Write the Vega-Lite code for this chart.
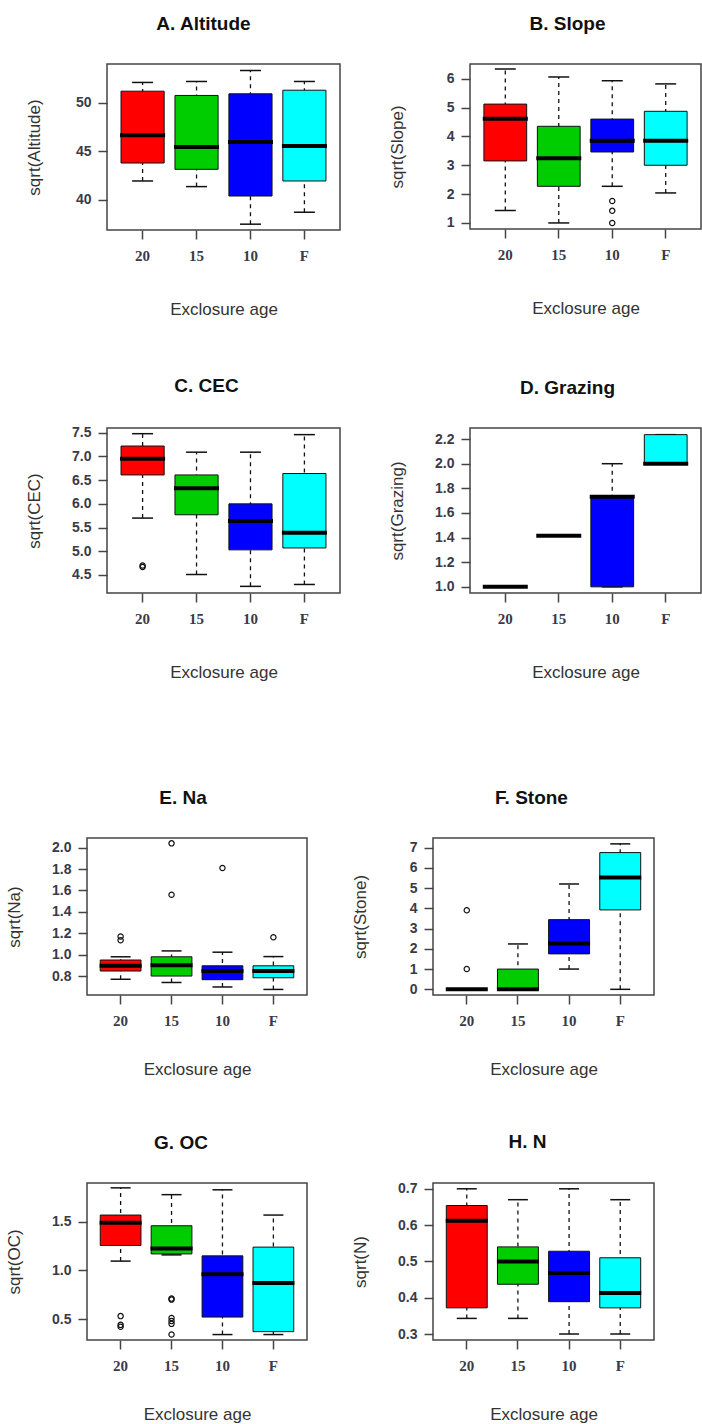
{
  "$schema": "https://vega.github.io/schema/vega-lite/v6.json",
  "padding": {"left": 4, "top": 14, "right": 0, "bottom": 0},
  "background": "white",
  "datasets": {
    "boxes": [
      {"panel": "A", "group": "20", "lower": 41.95, "q1": 43.8, "median": 46.65, "q3": 51.2, "upper": 52.1},
      {"panel": "A", "group": "15", "lower": 41.37, "q1": 43.15, "median": 45.45, "q3": 50.76, "upper": 52.2},
      {"panel": "A", "group": "10", "lower": 37.5, "q1": 40.4, "median": 45.96, "q3": 50.93, "upper": 53.33},
      {"panel": "A", "group": "F", "lower": 38.73, "q1": 41.95, "median": 45.55, "q3": 51.3, "upper": 52.2},
      {"panel": "B", "group": "20", "lower": 1.43, "q1": 3.15, "median": 4.61, "q3": 5.12, "upper": 6.34},
      {"panel": "B", "group": "15", "lower": 1.0, "q1": 2.27, "median": 3.24, "q3": 4.35, "upper": 6.06},
      {"panel": "B", "group": "10", "lower": 2.27, "q1": 3.46, "median": 3.85, "q3": 4.6, "upper": 5.93},
      {"panel": "B", "group": "F", "lower": 2.04, "q1": 3.0, "median": 3.85, "q3": 4.87, "upper": 5.82},
      {"panel": "C", "group": "20", "lower": 5.7, "q1": 6.61, "median": 6.95, "q3": 7.22, "upper": 7.48},
      {"panel": "C", "group": "15", "lower": 4.51, "q1": 5.77, "median": 6.33, "q3": 6.61, "upper": 7.09},
      {"panel": "C", "group": "10", "lower": 4.26, "q1": 5.03, "median": 5.64, "q3": 6.0, "upper": 7.09},
      {"panel": "C", "group": "F", "lower": 4.3, "q1": 5.07, "median": 5.39, "q3": 6.64, "upper": 7.46},
      {"panel": "D", "group": "20", "lower": 1.0, "q1": 1.0, "median": 1.0, "q3": 1.0, "upper": 1.0},
      {"panel": "D", "group": "15", "lower": 1.414, "q1": 1.414, "median": 1.414, "q3": 1.414, "upper": 1.414},
      {"panel": "D", "group": "10", "lower": 1.0, "q1": 1.0, "median": 1.732, "q3": 1.732, "upper": 2.0},
      {"panel": "D", "group": "F", "lower": 2.0, "q1": 2.0, "median": 2.0, "q3": 2.236, "upper": 2.236},
      {"panel": "E", "group": "20", "lower": 0.77, "q1": 0.847, "median": 0.896, "q3": 0.95, "upper": 0.98},
      {"panel": "E", "group": "15", "lower": 0.74, "q1": 0.8, "median": 0.9, "q3": 0.98, "upper": 1.035},
      {"panel": "E", "group": "10", "lower": 0.698, "q1": 0.766, "median": 0.847, "q3": 0.896, "upper": 1.023},
      {"panel": "E", "group": "F", "lower": 0.675, "q1": 0.784, "median": 0.847, "q3": 0.896, "upper": 0.982},
      {"panel": "F", "group": "20", "lower": 0.0, "q1": 0.0, "median": 0.0, "q3": 0.0, "upper": 0.0},
      {"panel": "F", "group": "15", "lower": 0.0, "q1": 0.0, "median": 0.0, "q3": 1.0, "upper": 2.24},
      {"panel": "F", "group": "10", "lower": 1.0, "q1": 1.75, "median": 2.26, "q3": 3.44, "upper": 5.2},
      {"panel": "F", "group": "F", "lower": 0.0, "q1": 3.92, "median": 5.52, "q3": 6.75, "upper": 7.18},
      {"panel": "G", "group": "20", "lower": 1.096, "q1": 1.257, "median": 1.49, "q3": 1.57, "upper": 1.85},
      {"panel": "G", "group": "15", "lower": 1.16, "q1": 1.17, "median": 1.226, "q3": 1.46, "upper": 1.78},
      {"panel": "G", "group": "10", "lower": 0.34, "q1": 0.52, "median": 0.96, "q3": 1.15, "upper": 1.83},
      {"panel": "G", "group": "F", "lower": 0.34, "q1": 0.37, "median": 0.87, "q3": 1.24, "upper": 1.57},
      {"panel": "H", "group": "20", "lower": 0.343, "q1": 0.372, "median": 0.612, "q3": 0.654, "upper": 0.7},
      {"panel": "H", "group": "15", "lower": 0.343, "q1": 0.437, "median": 0.5, "q3": 0.54, "upper": 0.67},
      {"panel": "H", "group": "10", "lower": 0.3, "q1": 0.389, "median": 0.468, "q3": 0.528, "upper": 0.7},
      {"panel": "H", "group": "F", "lower": 0.3, "q1": 0.372, "median": 0.413, "q3": 0.51, "upper": 0.67}
    ],
    "outliers": [
      {"panel": "B", "group": "10", "value": 1.76},
      {"panel": "B", "group": "10", "value": 1.42},
      {"panel": "B", "group": "10", "value": 1.0},
      {"panel": "C", "group": "20", "value": 4.67},
      {"panel": "C", "group": "20", "value": 4.7},
      {"panel": "E", "group": "20", "value": 1.135},
      {"panel": "E", "group": "20", "value": 1.17},
      {"panel": "E", "group": "15", "value": 2.04},
      {"panel": "E", "group": "15", "value": 1.56},
      {"panel": "E", "group": "10", "value": 1.81},
      {"panel": "E", "group": "F", "value": 1.163},
      {"panel": "F", "group": "20", "value": 3.9},
      {"panel": "F", "group": "20", "value": 1.0},
      {"panel": "G", "group": "20", "value": 0.53},
      {"panel": "G", "group": "20", "value": 0.44},
      {"panel": "G", "group": "20", "value": 0.42},
      {"panel": "G", "group": "15", "value": 0.71},
      {"panel": "G", "group": "15", "value": 0.7},
      {"panel": "G", "group": "15", "value": 0.51},
      {"panel": "G", "group": "15", "value": 0.48},
      {"panel": "G", "group": "15", "value": 0.45},
      {"panel": "G", "group": "15", "value": 0.34}
    ]
  },
  "bounds": "flush",
  "spacing": 774,
  "vconcat": [
    {
      "bounds": "flush",
      "spacing": 0,
      "hconcat": [
        {"width": 20, "height": 10, "data": {"values": []}, "mark": "point", "view": {"stroke": null}},
        {
          "bounds": "flush",
          "spacing": 364,
          "vconcat": [
            {
              "bounds": "flush",
              "spacing": 130,
              "hconcat": [
                {
                  "width": 233, "height": 166,
                  "title": {"text": "A. Altitude", "dx": -20},
                  "data": {"name": "boxes"},
                  "transform": [{"filter": "datum.panel === 'A'"}],
                  "encoding": {"x": {"field": "group", "type": "nominal", "sort": ["20", "15", "10", "F"], "scale": {"paddingInner": 0.2, "paddingOuter": 0.26}, "title": "Exclosure age"}},
                  "layer": [
                    {"mark": {"type": "rule", "strokeDash": [4, 4], "color": "#111", "strokeWidth": 1.3},
                     "encoding": {"y": {"field": "lower", "type": "quantitative", "title": "sqrt(Altitude)", "scale": {"domain": [36.9, 54.0], "nice": false, "zero": false}, "axis": {"values": [40, 45, 50], "format": "d", "tickCount": 20, "labelOverlap": false}}, "y2": {"field": "upper"}}},
                    {"mark": {"type": "tick", "size": 21, "thickness": 1.5, "color": "#111", "opacity": 1}, "encoding": {"y": {"field": "lower", "type": "quantitative", "title": "sqrt(Altitude)"}}},
                    {"mark": {"type": "tick", "size": 21, "thickness": 1.5, "color": "#111", "opacity": 1}, "encoding": {"y": {"field": "upper", "type": "quantitative", "title": "sqrt(Altitude)"}}},
                    {"mark": {"type": "bar", "stroke": "#111", "strokeWidth": 1, "opacity": 1}, "encoding": {"y": {"field": "q1", "type": "quantitative", "title": "sqrt(Altitude)"}, "y2": {"field": "q3"}, "color": {"field": "group", "type": "nominal", "scale": {"domain": ["20", "15", "10", "F"], "range": ["#FF0000", "#00CD00", "#0000FF", "#00FFFF"]}, "legend": null}}},
                    {"mark": {"type": "tick", "size": 45, "thickness": 4, "color": "#000", "opacity": 1}, "encoding": {"y": {"field": "median", "type": "quantitative", "title": "sqrt(Altitude)"}}}
                  ]
                },
                {
                  "width": 231, "height": 165,
                  "title": {"text": "B. Slope", "dx": -18},
                  "encoding": {"x": {"field": "group", "type": "nominal", "sort": ["20", "15", "10", "F"], "scale": {"paddingInner": 0.2, "paddingOuter": 0.26}, "title": "Exclosure age"}},
                  "layer": [
                    {"data": {"name": "boxes"}, "transform": [{"filter": "datum.panel === 'B'"}],
                     "layer": [
                      {"mark": {"type": "rule", "strokeDash": [4, 4], "color": "#111", "strokeWidth": 1.3},
                       "encoding": {"y": {"field": "lower", "type": "quantitative", "title": "sqrt(Slope)", "scale": {"domain": [0.79, 6.51], "nice": false, "zero": false}, "axis": {"values": [1, 2, 3, 4, 5, 6], "format": "d", "tickCount": 20, "labelOverlap": false}}, "y2": {"field": "upper"}}},
                      {"mark": {"type": "tick", "size": 21, "thickness": 1.5, "color": "#111", "opacity": 1}, "encoding": {"y": {"field": "lower", "type": "quantitative", "title": "sqrt(Slope)"}}},
                      {"mark": {"type": "tick", "size": 21, "thickness": 1.5, "color": "#111", "opacity": 1}, "encoding": {"y": {"field": "upper", "type": "quantitative", "title": "sqrt(Slope)"}}},
                      {"mark": {"type": "bar", "stroke": "#111", "strokeWidth": 1, "opacity": 1}, "encoding": {"y": {"field": "q1", "type": "quantitative", "title": "sqrt(Slope)"}, "y2": {"field": "q3"}, "color": {"field": "group", "type": "nominal", "scale": {"domain": ["20", "15", "10", "F"], "range": ["#FF0000", "#00CD00", "#0000FF", "#00FFFF"]}, "legend": null}}},
                      {"mark": {"type": "tick", "size": 45, "thickness": 4, "color": "#000", "opacity": 1}, "encoding": {"y": {"field": "median", "type": "quantitative", "title": "sqrt(Slope)"}}}
                     ]},
                    {"data": {"name": "outliers"}, "transform": [{"filter": "datum.panel === 'B'"}],
                     "mark": {"type": "point", "shape": "circle", "filled": false, "size": 28, "stroke": "#111", "strokeWidth": 1.2, "opacity": 1},
                     "encoding": {"y": {"field": "value", "type": "quantitative", "title": "sqrt(Slope)"}}}
                  ]
                }
              ]
            },
            {
              "bounds": "flush",
              "spacing": 130,
              "hconcat": [
                {
                  "width": 233, "height": 165,
                  "title": {"text": "C. CEC", "dx": -17},
                  "encoding": {"x": {"field": "group", "type": "nominal", "sort": ["20", "15", "10", "F"], "scale": {"paddingInner": 0.2, "paddingOuter": 0.26}, "title": "Exclosure age"}},
                  "layer": [
                    {"data": {"name": "boxes"}, "transform": [{"filter": "datum.panel === 'C'"}],
                     "layer": [
                      {"mark": {"type": "rule", "strokeDash": [4, 4], "color": "#111", "strokeWidth": 1.3},
                       "encoding": {"y": {"field": "lower", "type": "quantitative", "title": "sqrt(CEC)", "scale": {"domain": [4.12, 7.6], "nice": false, "zero": false}, "axis": {"values": [4.5, 5.0, 5.5, 6.0, 6.5, 7.0, 7.5], "format": ".1f", "tickCount": 20, "labelOverlap": false}}, "y2": {"field": "upper"}}},
                      {"mark": {"type": "tick", "size": 21, "thickness": 1.5, "color": "#111", "opacity": 1}, "encoding": {"y": {"field": "lower", "type": "quantitative", "title": "sqrt(CEC)"}}},
                      {"mark": {"type": "tick", "size": 21, "thickness": 1.5, "color": "#111", "opacity": 1}, "encoding": {"y": {"field": "upper", "type": "quantitative", "title": "sqrt(CEC)"}}},
                      {"mark": {"type": "bar", "stroke": "#111", "strokeWidth": 1, "opacity": 1}, "encoding": {"y": {"field": "q1", "type": "quantitative", "title": "sqrt(CEC)"}, "y2": {"field": "q3"}, "color": {"field": "group", "type": "nominal", "scale": {"domain": ["20", "15", "10", "F"], "range": ["#FF0000", "#00CD00", "#0000FF", "#00FFFF"]}, "legend": null}}},
                      {"mark": {"type": "tick", "size": 45, "thickness": 4, "color": "#000", "opacity": 1}, "encoding": {"y": {"field": "median", "type": "quantitative", "title": "sqrt(CEC)"}}}
                     ]},
                    {"data": {"name": "outliers"}, "transform": [{"filter": "datum.panel === 'C'"}],
                     "mark": {"type": "point", "shape": "circle", "filled": false, "size": 28, "stroke": "#111", "strokeWidth": 1.2, "opacity": 1},
                     "encoding": {"y": {"field": "value", "type": "quantitative", "title": "sqrt(CEC)"}}}
                  ]
                },
                {
                  "width": 231, "height": 165,
                  "title": {"text": "D. Grazing", "dx": -18},
                  "data": {"name": "boxes"},
                  "transform": [{"filter": "datum.panel === 'D'"}],
                  "encoding": {"x": {"field": "group", "type": "nominal", "sort": ["20", "15", "10", "F"], "scale": {"paddingInner": 0.2, "paddingOuter": 0.26}, "title": "Exclosure age"}},
                  "layer": [
                    {"mark": {"type": "rule", "strokeDash": [4, 4], "color": "#111", "strokeWidth": 1.3},
                     "encoding": {"y": {"field": "lower", "type": "quantitative", "title": "sqrt(Grazing)", "scale": {"domain": [0.95, 2.29], "nice": false, "zero": false}, "axis": {"values": [1.0, 1.2, 1.4, 1.6, 1.8, 2.0, 2.2], "format": ".1f", "tickCount": 20, "labelOverlap": false}}, "y2": {"field": "upper"}}},
                    {"mark": {"type": "tick", "size": 21, "thickness": 1.5, "color": "#111", "opacity": 1}, "encoding": {"y": {"field": "lower", "type": "quantitative", "title": "sqrt(Grazing)"}}},
                    {"mark": {"type": "tick", "size": 21, "thickness": 1.5, "color": "#111", "opacity": 1}, "encoding": {"y": {"field": "upper", "type": "quantitative", "title": "sqrt(Grazing)"}}},
                    {"mark": {"type": "bar", "stroke": "#111", "strokeWidth": 1, "opacity": 1}, "encoding": {"y": {"field": "q1", "type": "quantitative", "title": "sqrt(Grazing)"}, "y2": {"field": "q3"}, "color": {"field": "group", "type": "nominal", "scale": {"domain": ["20", "15", "10", "F"], "range": ["#FF0000", "#00CD00", "#0000FF", "#00FFFF"]}, "legend": null}}},
                    {"mark": {"type": "tick", "size": 45, "thickness": 4, "color": "#000", "opacity": 1}, "encoding": {"y": {"field": "median", "type": "quantitative", "title": "sqrt(Grazing)"}}}
                  ]
                }
              ]
            }
          ]
        }
      ]
    },
    {
      "bounds": "flush",
      "spacing": 345,
      "vconcat": [
        {
          "bounds": "flush",
          "spacing": 126,
          "hconcat": [
            {
              "width": 220, "height": 157,
              "title": {"text": "E. Na", "dx": -14},
              "encoding": {"x": {"field": "group", "type": "nominal", "sort": ["20", "15", "10", "F"], "scale": {"paddingInner": 0.2, "paddingOuter": 0.26}, "title": "Exclosure age", "axis": {"titlePadding": 33}}},
              "layer": [
                {"data": {"name": "boxes"}, "transform": [{"filter": "datum.panel === 'E'"}],
                 "layer": [
                  {"mark": {"type": "rule", "strokeDash": [4, 4], "color": "#111", "strokeWidth": 1.3},
                   "encoding": {"y": {"field": "lower", "type": "quantitative", "title": "sqrt(Na)", "scale": {"domain": [0.623, 2.09], "nice": false, "zero": false}, "axis": {"values": [0.8, 1.0, 1.2, 1.4, 1.6, 1.8, 2.0], "format": ".1f", "tickCount": 20, "labelOverlap": false}}, "y2": {"field": "upper"}}},
                  {"mark": {"type": "tick", "size": 20, "thickness": 1.5, "color": "#111", "opacity": 1}, "encoding": {"y": {"field": "lower", "type": "quantitative", "title": "sqrt(Na)"}}},
                  {"mark": {"type": "tick", "size": 20, "thickness": 1.5, "color": "#111", "opacity": 1}, "encoding": {"y": {"field": "upper", "type": "quantitative", "title": "sqrt(Na)"}}},
                  {"mark": {"type": "bar", "stroke": "#111", "strokeWidth": 1, "opacity": 1}, "encoding": {"y": {"field": "q1", "type": "quantitative", "title": "sqrt(Na)"}, "y2": {"field": "q3"}, "color": {"field": "group", "type": "nominal", "scale": {"domain": ["20", "15", "10", "F"], "range": ["#FF0000", "#00CD00", "#0000FF", "#00FFFF"]}, "legend": null}}},
                  {"mark": {"type": "tick", "size": 42, "thickness": 4, "color": "#000", "opacity": 1}, "encoding": {"y": {"field": "median", "type": "quantitative", "title": "sqrt(Na)"}}}
                 ]},
                {"data": {"name": "outliers"}, "transform": [{"filter": "datum.panel === 'E'"}],
                 "mark": {"type": "point", "shape": "circle", "filled": false, "size": 28, "stroke": "#111", "strokeWidth": 1.2, "opacity": 1},
                 "encoding": {"y": {"field": "value", "type": "quantitative", "title": "sqrt(Na)"}}}
              ]
            },
            {
              "width": 221, "height": 157,
              "title": {"text": "F. Stone", "dx": -12},
              "encoding": {"x": {"field": "group", "type": "nominal", "sort": ["20", "15", "10", "F"], "scale": {"paddingInner": 0.2, "paddingOuter": 0.26}, "title": "Exclosure age", "axis": {"titlePadding": 33}}},
              "layer": [
                {"data": {"name": "boxes"}, "transform": [{"filter": "datum.panel === 'F'"}],
                 "layer": [
                  {"mark": {"type": "rule", "strokeDash": [4, 4], "color": "#111", "strokeWidth": 1.3},
                   "encoding": {"y": {"field": "lower", "type": "quantitative", "title": "sqrt(Stone)", "scale": {"domain": [-0.28, 7.47], "nice": false, "zero": false}, "axis": {"values": [0, 1, 2, 3, 4, 5, 6, 7], "format": "d", "tickCount": 20, "labelOverlap": false}}, "y2": {"field": "upper"}}},
                  {"mark": {"type": "tick", "size": 20, "thickness": 1.5, "color": "#111", "opacity": 1}, "encoding": {"y": {"field": "lower", "type": "quantitative", "title": "sqrt(Stone)"}}},
                  {"mark": {"type": "tick", "size": 20, "thickness": 1.5, "color": "#111", "opacity": 1}, "encoding": {"y": {"field": "upper", "type": "quantitative", "title": "sqrt(Stone)"}}},
                  {"mark": {"type": "bar", "stroke": "#111", "strokeWidth": 1, "opacity": 1}, "encoding": {"y": {"field": "q1", "type": "quantitative", "title": "sqrt(Stone)"}, "y2": {"field": "q3"}, "color": {"field": "group", "type": "nominal", "scale": {"domain": ["20", "15", "10", "F"], "range": ["#FF0000", "#00CD00", "#0000FF", "#00FFFF"]}, "legend": null}}},
                  {"mark": {"type": "tick", "size": 42, "thickness": 4, "color": "#000", "opacity": 1}, "encoding": {"y": {"field": "median", "type": "quantitative", "title": "sqrt(Stone)"}}}
                 ]},
                {"data": {"name": "outliers"}, "transform": [{"filter": "datum.panel === 'F'"}],
                 "mark": {"type": "point", "shape": "circle", "filled": false, "size": 28, "stroke": "#111", "strokeWidth": 1.2, "opacity": 1},
                 "encoding": {"y": {"field": "value", "type": "quantitative", "title": "sqrt(Stone)"}}}
              ]
            }
          ]
        },
        {
          "bounds": "flush",
          "spacing": 126,
          "hconcat": [
            {
              "width": 220, "height": 157,
              "title": {"text": "G. OC", "dx": -16},
              "encoding": {"x": {"field": "group", "type": "nominal", "sort": ["20", "15", "10", "F"], "scale": {"paddingInner": 0.2, "paddingOuter": 0.26}, "title": "Exclosure age", "axis": {"titlePadding": 33}}},
              "layer": [
                {"data": {"name": "boxes"}, "transform": [{"filter": "datum.panel === 'G'"}],
                 "layer": [
                  {"mark": {"type": "rule", "strokeDash": [4, 4], "color": "#111", "strokeWidth": 1.3},
                   "encoding": {"y": {"field": "lower", "type": "quantitative", "title": "sqrt(OC)", "scale": {"domain": [0.284, 1.9], "nice": false, "zero": false}, "axis": {"values": [0.5, 1.0, 1.5], "format": ".1f", "tickCount": 20, "labelOverlap": false}}, "y2": {"field": "upper"}}},
                  {"mark": {"type": "tick", "size": 20, "thickness": 1.5, "color": "#111", "opacity": 1}, "encoding": {"y": {"field": "lower", "type": "quantitative", "title": "sqrt(OC)"}}},
                  {"mark": {"type": "tick", "size": 20, "thickness": 1.5, "color": "#111", "opacity": 1}, "encoding": {"y": {"field": "upper", "type": "quantitative", "title": "sqrt(OC)"}}},
                  {"mark": {"type": "bar", "stroke": "#111", "strokeWidth": 1, "opacity": 1}, "encoding": {"y": {"field": "q1", "type": "quantitative", "title": "sqrt(OC)"}, "y2": {"field": "q3"}, "color": {"field": "group", "type": "nominal", "scale": {"domain": ["20", "15", "10", "F"], "range": ["#FF0000", "#00CD00", "#0000FF", "#00FFFF"]}, "legend": null}}},
                  {"mark": {"type": "tick", "size": 42, "thickness": 4, "color": "#000", "opacity": 1}, "encoding": {"y": {"field": "median", "type": "quantitative", "title": "sqrt(OC)"}}}
                 ]},
                {"data": {"name": "outliers"}, "transform": [{"filter": "datum.panel === 'G'"}],
                 "mark": {"type": "point", "shape": "circle", "filled": false, "size": 28, "stroke": "#111", "strokeWidth": 1.2, "opacity": 1},
                 "encoding": {"y": {"field": "value", "type": "quantitative", "title": "sqrt(OC)"}}}
              ]
            },
            {
              "width": 221, "height": 157,
              "title": {"text": "H. N", "dx": -16},
              "data": {"name": "boxes"},
              "transform": [{"filter": "datum.panel === 'H'"}],
              "encoding": {"x": {"field": "group", "type": "nominal", "sort": ["20", "15", "10", "F"], "scale": {"paddingInner": 0.2, "paddingOuter": 0.26}, "title": "Exclosure age", "axis": {"titlePadding": 33}}},
              "layer": [
                {"mark": {"type": "rule", "strokeDash": [4, 4], "color": "#111", "strokeWidth": 1.3},
                 "encoding": {"y": {"field": "lower", "type": "quantitative", "title": "sqrt(N)", "scale": {"domain": [0.2835, 0.716], "nice": false, "zero": false}, "axis": {"values": [0.3, 0.4, 0.5, 0.6, 0.7], "format": ".1f", "tickCount": 20, "labelOverlap": false}}, "y2": {"field": "upper"}}},
                {"mark": {"type": "tick", "size": 20, "thickness": 1.5, "color": "#111", "opacity": 1}, "encoding": {"y": {"field": "lower", "type": "quantitative", "title": "sqrt(N)"}}},
                {"mark": {"type": "tick", "size": 20, "thickness": 1.5, "color": "#111", "opacity": 1}, "encoding": {"y": {"field": "upper", "type": "quantitative", "title": "sqrt(N)"}}},
                {"mark": {"type": "bar", "stroke": "#111", "strokeWidth": 1, "opacity": 1}, "encoding": {"y": {"field": "q1", "type": "quantitative", "title": "sqrt(N)"}, "y2": {"field": "q3"}, "color": {"field": "group", "type": "nominal", "scale": {"domain": ["20", "15", "10", "F"], "range": ["#FF0000", "#00CD00", "#0000FF", "#00FFFF"]}, "legend": null}}},
                {"mark": {"type": "tick", "size": 42, "thickness": 4, "color": "#000", "opacity": 1}, "encoding": {"y": {"field": "median", "type": "quantitative", "title": "sqrt(N)"}}}
              ]
            }
          ]
        }
      ]
    }
  ],
  "resolve": {"scale": {"x": "independent", "y": "independent", "color": "independent"}},
  "config": {
    "view": {"stroke": "#444", "strokeWidth": 1.5},
    "axis": {"domain": false, "grid": false, "tickColor": "#444", "tickWidth": 1.5, "tickSize": 9, "labelColor": "#3a3a48", "labelOverlap": false, "titleColor": "#333", "titleFont": "Liberation Sans", "titleFontSize": 17, "titleFontWeight": "normal"},
    "axisY": {"labelFont": "Liberation Sans", "labelFontSize": 14, "labelFontWeight": "bold", "labelPadding": 7, "titleX": -64},
    "axisX": {"labelFont": "Liberation Serif", "labelFontSize": 15, "labelFontWeight": "bold", "labelAngle": 0, "labelPadding": 9, "titlePadding": 38},
    "title": {"font": "Liberation Sans", "fontSize": 19, "fontWeight": "bold", "color": "#111", "offset": 30, "anchor": "middle"}
  }
}
